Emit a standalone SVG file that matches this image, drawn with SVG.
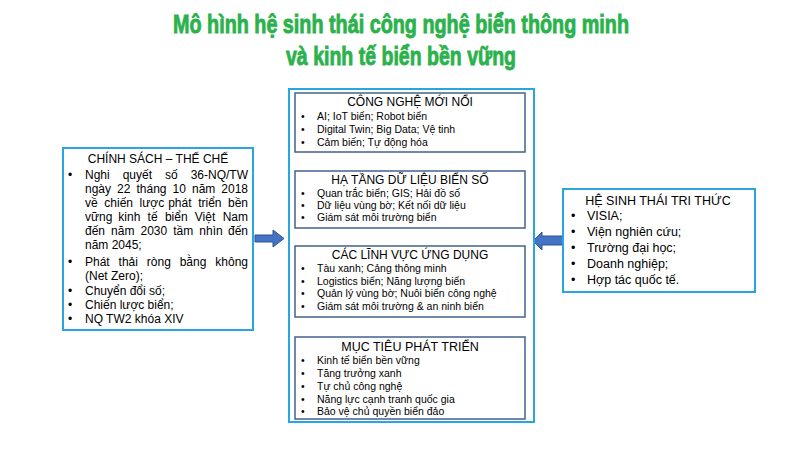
<svg xmlns="http://www.w3.org/2000/svg" width="800" height="453" viewBox="0 0 800 453">
<defs>
<style>
.title{font-family:"Liberation Sans",Arial,sans-serif;font-weight:bold;fill:#2bb24c;stroke:#2bb24c;stroke-width:0.9;text-anchor:middle}
.frame{fill:#fff;stroke:#27a6e0;stroke-width:2}
.box{fill:#fff;stroke:#41628f;stroke-width:1.5}
.h{font-family:"Liberation Sans",Arial,sans-serif;font-size:12px;fill:#000;text-anchor:middle}
.t{font-family:"Liberation Sans",Arial,sans-serif;font-size:12px;fill:#000}
.s{font-family:"Liberation Sans",Arial,sans-serif;font-size:10.5px;fill:#000}
.r{font-family:"Liberation Sans",Arial,sans-serif;font-size:12.5px;fill:#000}
.e{text-anchor:end}
.conn{stroke:#4472c4;stroke-width:1.2;fill:none}
.bigarrow{fill:#4472c4;stroke:#2f528f;stroke-width:1}
</style>
<marker id="ah" viewBox="0 0 10 10" refX="10" refY="5" markerWidth="5" markerHeight="5" orient="auto">
<path d="M0,0 L10,5 L0,10 z" fill="#4472c4"/>
</marker>
</defs>
<rect width="800" height="453" fill="#fff"/>

<g id="title">
<text class="title" x="401" y="33" font-size="26" textLength="456" lengthAdjust="spacingAndGlyphs">Mô hình hệ sinh thái công nghệ biển thông minh</text>
<text class="title" x="401" y="65" font-size="26" textLength="230" lengthAdjust="spacingAndGlyphs">và kinh tế biển bền vững</text>
</g>

<g id="connectors">
<line class="conn" x1="410" y1="152" x2="410" y2="170" marker-end="url(#ah)"/>
<line class="conn" x1="410" y1="228" x2="410" y2="245" marker-end="url(#ah)"/>
<line class="conn" x1="410" y1="317" x2="410" y2="336" marker-end="url(#ah)"/>
<path class="bigarrow" d="M255,235 L273,235 L273,230 L284,238.5 L273,247 L273,242 L255,242 z"/>
<path class="bigarrow" d="M565,236 L542,236 L542,232 L533,241 L542,250 L542,245 L565,245 z"/>
</g>

<g id="chinh-sach">
<rect class="frame" x="63" y="148" width="190" height="182"/>
<text class="h" x="158" y="163">CHÍNH SÁCH – THẾ CHẾ</text>
<text class="t" x="68" y="179">•</text>
<text class="t" x="68" y="266">•</text>
<text class="t" x="68" y="295">•</text>
<text class="t" x="68" y="309">•</text>
<text class="t" x="68" y="323">•</text>
<text class="t" y="179"><tspan x="85">Nghi</tspan><tspan x="122.7">quyết</tspan><tspan x="165.1">số</tspan></text>
<text class="t e" x="248" y="179">36-NQ/TW</text>
<text class="t" y="193"><tspan x="85">ngày</tspan><tspan x="117.1">22</tspan><tspan x="136.5">tháng</tspan><tspan x="172.6">10</tspan><tspan x="192">năm</tspan></text>
<text class="t e" x="248" y="193">2018</text>
<text class="t" y="207"><tspan x="85">về</tspan><tspan x="104.3">chiến</tspan><tspan x="139.6">lược</tspan><tspan x="168.2">phát</tspan><tspan x="198.2">triển</tspan></text>
<text class="t e" x="248" y="207">bền</text>
<text class="t" y="221"><tspan x="85">vững</tspan><tspan x="118.3">kinh</tspan><tspan x="147.6">tế</tspan><tspan x="164.9">biển</tspan><tspan x="194.8">Việt</tspan></text>
<text class="t e" x="248" y="221">Nam</text>
<text class="t" y="235"><tspan x="85">đến</tspan><tspan x="111.1">năm</tspan><tspan x="140.5">2030</tspan><tspan x="173.2">tầm</tspan><tspan x="199.3">nhìn</tspan></text>
<text class="t e" x="248" y="235">đến</text>
<text class="t" x="85" y="249">năm 2045;</text>
<text class="t" y="266"><tspan x="85">Phát</tspan><tspan x="118.6">thải</tspan><tspan x="146.8">ròng</tspan><tspan x="179.7">bằng</tspan></text>
<text class="t e" x="248" y="266">không</text>
<text class="t" x="85" y="280">(Net Zero);</text>
<text class="t" x="85" y="295">Chuyển đổi số;</text>
<text class="t" x="85" y="309">Chiến lược biển;</text>
<text class="t" x="85" y="323">NQ TW2 khóa XIV</text>
</g>

<g id="he-sinh-thai">
<rect class="frame" x="563" y="189" width="192" height="103"/>
<text class="h" x="658" y="205" style="font-size:12.5px">HỆ SINH THÁI TRI THỨC</text>
<text class="r" x="571" y="220">•</text><text class="r" x="587" y="220">VISIA;</text>
<text class="r" x="571" y="236">•</text><text class="r" x="587" y="236">Viện nghiên cứu;</text>
<text class="r" x="571" y="252">•</text><text class="r" x="587" y="252">Trường đại học;</text>
<text class="r" x="571" y="268">•</text><text class="r" x="587" y="268">Doanh nghiệp;</text>
<text class="r" x="571" y="284">•</text><text class="r" x="587" y="284">Hợp tác quốc tế.</text>
</g>

<g id="center-frame">
<rect class="frame" x="289" y="89" width="245" height="333"/>
</g>

<g id="cong-nghe">
<rect class="box" x="295" y="93" width="230" height="59"/>
<text class="h" x="410" y="106">CÔNG NGHỆ MỚI NỔI</text>
<text class="s" x="301" y="120">•</text><text class="s" x="317" y="120">AI; IoT biển; Robot biển</text>
<text class="s" x="301" y="133">•</text><text class="s" x="317" y="133">Digital Twin; Big Data; Vệ tinh</text>
<text class="s" x="301" y="146">•</text><text class="s" x="317" y="146">Cảm biến; Tự động hóa</text>
</g>

<g id="ha-tang">
<rect class="box" x="295" y="171" width="230" height="57"/>
<text class="h" x="410" y="184">HẠ TẦNG DỮ LIỆU BIỂN SỐ</text>
<text class="s" x="301" y="197">•</text><text class="s" x="317" y="197">Quan trắc biển; GIS; Hải đồ số</text>
<text class="s" x="301" y="209">•</text><text class="s" x="317" y="209">Dữ liệu vùng bờ; Kết nối dữ liệu</text>
<text class="s" x="301" y="221">•</text><text class="s" x="317" y="221">Giám sát môi trường biển</text>
</g>

<g id="linh-vuc">
<rect class="box" x="295" y="246" width="230" height="71"/>
<text class="h" x="410" y="259">CÁC LĨNH VỰC ỨNG DỤNG</text>
<text class="s" x="301" y="272">•</text><text class="s" x="317" y="272">Tàu xanh; Cảng thông minh</text>
<text class="s" x="301" y="285">•</text><text class="s" x="317" y="285">Logistics biển; Năng lượng biển</text>
<text class="s" x="301" y="297">•</text><text class="s" x="317" y="297">Quản lý vùng bờ; Nuôi biển công nghệ</text>
<text class="s" x="301" y="310">•</text><text class="s" x="317" y="310">Giám sát môi trường &amp; an ninh biển</text>
</g>

<g id="muc-tieu">
<rect class="box" x="295" y="337" width="230" height="82"/>
<text class="h" x="410" y="351" style="font-size:12.5px">MỤC TIÊU PHÁT TRIỂN</text>
<text class="s" x="301" y="364">•</text><text class="s" x="317" y="364">Kinh tế biển bền vững</text>
<text class="s" x="301" y="377">•</text><text class="s" x="317" y="377">Tăng trưởng xanh</text>
<text class="s" x="301" y="390">•</text><text class="s" x="317" y="390">Tự chủ công nghệ</text>
<text class="s" x="301" y="403">•</text><text class="s" x="317" y="403">Năng lực cạnh tranh quốc gia</text>
<text class="s" x="301" y="415">•</text><text class="s" x="317" y="415">Bảo vệ chủ quyền biển đảo</text>
</g>
</svg>
